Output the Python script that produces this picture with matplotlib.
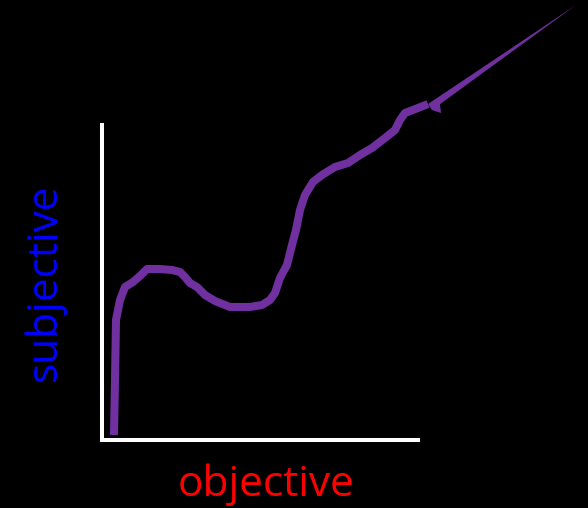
import numpy as np
import matplotlib.pyplot as plt

# curve, in pixel offsets from the axes corner (x right, y up)
curve_x = [12, 13, 14, 18, 23, 31, 38, 45, 58, 70, 78, 83, 88, 95, 103, 113, 128,
           148, 160, 168, 173, 178, 185, 190, 194, 198, 203, 211, 220, 233, 246,
           258, 270, 283, 293, 298, 303, 316, 326]
curve_y = [5, 60, 120, 140, 153, 158, 164, 171, 171, 170, 168, 163, 157, 153, 145,
           139, 133, 133, 135, 140, 147, 162, 175, 195, 210, 230, 245, 258, 265,
           273, 277, 285, 292, 302, 310, 320, 327, 332, 336]

# tapered tail that runs off to the upper right
tail_x = [326, 330, 474]
tail_y = [336, 330, 435]
hook_x = [328, 338, 339, 330]
hook_y = [336, 336, 327, 330]

purple = '#7030a0'

fig = plt.figure(figsize=(5.88, 5.08), dpi=100, facecolor='black')
ax = fig.add_axes([102 / 588, 68 / 508, 316 / 588, 315 / 508])
ax.set_facecolor('black')
ax.set_xlim(0, 316)
ax.set_ylim(0, 315)

ax.plot(curve_x, curve_y, color=purple, lw=5.8, solid_capstyle='butt',
        solid_joinstyle='round', clip_on=False)
ax.fill(tail_x, tail_y, color=purple, lw=0, clip_on=False)
ax.fill(hook_x, hook_y, color=purple, lw=0, clip_on=False)

for side in ['top', 'right']:
    ax.spines[side].set_visible(False)
for side in ['left', 'bottom']:
    ax.spines[side].set_color('white')
    ax.spines[side].set_linewidth(2.9)
ax.set_xticks([])
ax.set_yticks([])

fig.text(266 / 588, 1 - 485 / 508, 'objective', color='red', fontsize=30.5,
         family='Open Sans', ha='center', va='center')
fig.text(45 / 588, 1 - 282 / 508, 'subjective', color='blue', fontsize=30.5,
         family='Open Sans', ha='center', va='center', rotation=90)

fig.savefig('out.png', dpi=100, facecolor='black')
